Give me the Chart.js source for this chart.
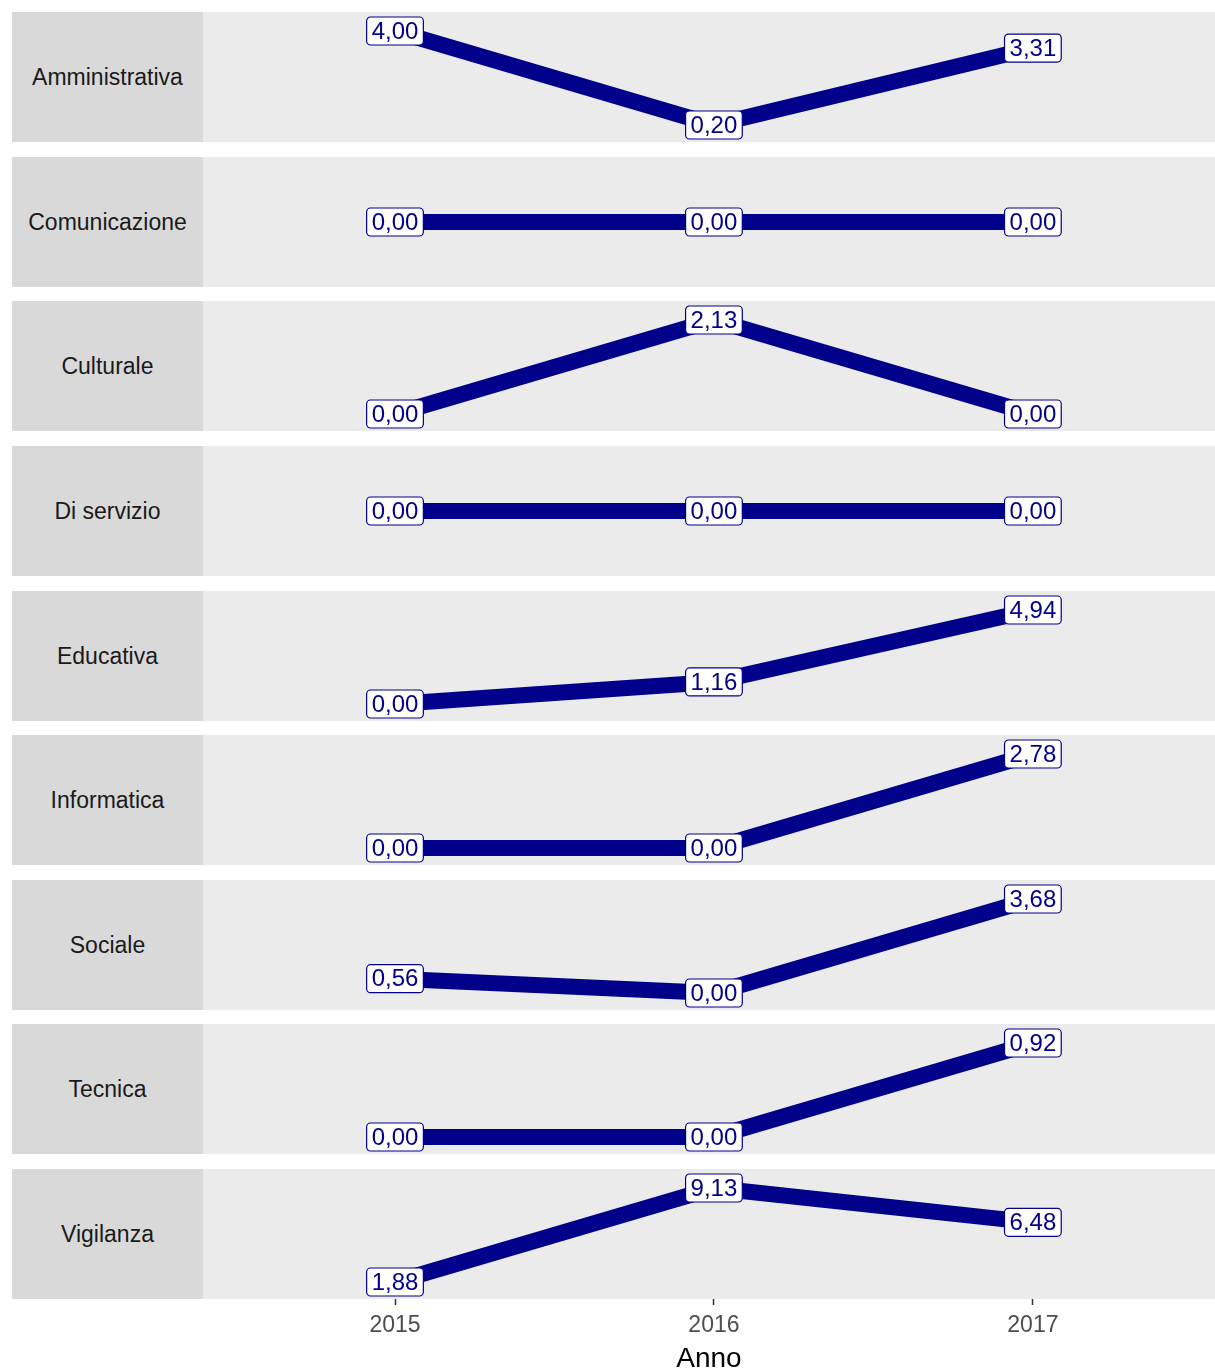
<!DOCTYPE html>
<html>
<head>
<meta charset="utf-8">
<script src="https://cdn.jsdelivr.net/npm/chart.js@4/dist/chart.umd.min.js"></script>
<style>
  html, body { margin:0; padding:0; background:#fff; }
  body { width:1215px; height:1371px; position:relative; overflow:hidden; font-family:"Liberation Sans", Arial, sans-serif; }
  .strip { position:absolute; left:12px; width:191px; height:130px; background:#D9D9D9; color:#1A1A1A;
           font-size:23px; display:flex; align-items:center; justify-content:center; }
  .panel { position:absolute; left:203px; }
  canvas { display:block; }
</style>
</head>
<body>
<script>
'use strict';

const years = [2015, 2016, 2017];
const categories = ['Amministrativa','Comunicazione','Culturale','Di servizio','Educativa','Informatica','Sociale','Tecnica','Vigilanza'];

const amministrativa = [4.00, 0.20, 3.31];
const comunicazione  = [0.00, 0.00, 0.00];
const culturale      = [0.00, 2.13, 0.00];
const diServizio     = [0.00, 0.00, 0.00];
const educativa      = [0.00, 1.16, 4.94];
const informatica    = [0.00, 0.00, 2.78];
const sociale        = [0.56, 0.00, 3.68];
const tecnica        = [0.00, 0.00, 0.92];
const vigilanza      = [1.88, 9.13, 6.48];

const series = [amministrativa, comunicazione, culturale, diServizio, educativa, informatica, sociale, tecnica, vigilanza];

const NAVY = '#00008B';
const FONT = '"Liberation Sans", Arial, sans-serif';
const fmt = v => v.toFixed(2).replace('.', ',');

// grey panel background
const panelBg = {
  id: 'panelBg',
  beforeDraw(chart) {
    const { ctx, chartArea: a } = chart;
    ctx.save();
    ctx.fillStyle = '#EBEBEB';
    ctx.fillRect(a.left, a.top, a.right - a.left, a.bottom - a.top);
    ctx.restore();
  }
};

// geom_label style boxes
const valueLabels = {
  id: 'valueLabels',
  afterDatasetsDraw(chart) {
    const { ctx } = chart;
    const meta = chart.getDatasetMeta(0);
    const vals = chart.data.datasets[0].data;
    ctx.save();
    ctx.font = `24px ${FONT}`;
    ctx.textAlign = 'center';
    ctx.textBaseline = 'middle';
    meta.data.forEach((pt, i) => {
      const txt = fmt(vals[i].y);
      const w = ctx.measureText(txt).width + 10;
      const h = 28;
      ctx.beginPath();
      ctx.roundRect(pt.x - w/2, pt.y - h/2, w, h, 4);
      ctx.fillStyle = '#fff';
      ctx.fill();
      ctx.lineWidth = 1.2;
      ctx.strokeStyle = NAVY;
      ctx.stroke();
      ctx.fillStyle = NAVY;
      ctx.fillText(txt, pt.x, pt.y + 1);
    });
    ctx.restore();
  }
};

const PITCH = 144.625;
const last = categories.length - 1;

categories.forEach((cat, i) => {
  const top = Math.round(12 + i * PITCH);
  const strip = document.createElement('div');
  strip.className = 'strip';
  strip.style.top = top + 'px';
  strip.textContent = cat;
  document.body.appendChild(strip);

  const isLast = i === last;
  const wrap = document.createElement('div');
  wrap.className = 'panel';
  wrap.style.top = top + 'px';
  const cv = document.createElement('canvas');
  cv.width = 1012;
  cv.height = isLast ? 1371 - top : 130;
  wrap.appendChild(cv);
  document.body.appendChild(wrap);

  const vals = series[i];
  const lo = Math.min(...vals), hi = Math.max(...vals);
  const r = hi - lo;
  const yMin = r ? lo - 0.181 * r : -1;
  const yMax = r ? hi + 0.202 * r : 1;

  new Chart(cv, {
    type: 'line',
    data: {
      datasets: [{
        data: years.map((y, k) => ({ x: y, y: vals[k] })),
        borderColor: NAVY,
        borderWidth: 16,
        borderJoinStyle: 'round',
        borderCapStyle: 'butt',
        pointRadius: 0,
        tension: 0,
      }],
    },
    options: {
      responsive: false,
      animation: false,
      layout: { padding: 0 },
      plugins: { legend: { display:false }, tooltip: { enabled:false } },
      scales: {
        x: {
          type: 'linear',
          display: isLast,
          min: 2014.398,
          max: 2017.571,
          afterBuildTicks: s => { s.ticks = years.map(v => ({ value: v })); },
          afterFit: s => { if (isLast) s.height = 72; },
          border: { display:false },
          grid: { drawOnChartArea:false, drawTicks:true, tickLength:6, tickColor:'#333333', tickWidth:1.5 },
          ticks: { callback: v => String(v), color:'#4D4D4D', font:{ family:FONT, size:23 }, padding:7, maxRotation:0 },
          title: { display:true, text:'Anno', color:'#000', font:{ family:FONT, size:28, lineHeight:0.85 }, padding:{ top:0, bottom:0 } },
        },
        y: { display:false, min:yMin, max:yMax },
      },
    },
    plugins: [panelBg, valueLabels],
  });
});
</script>
</body>
</html>
